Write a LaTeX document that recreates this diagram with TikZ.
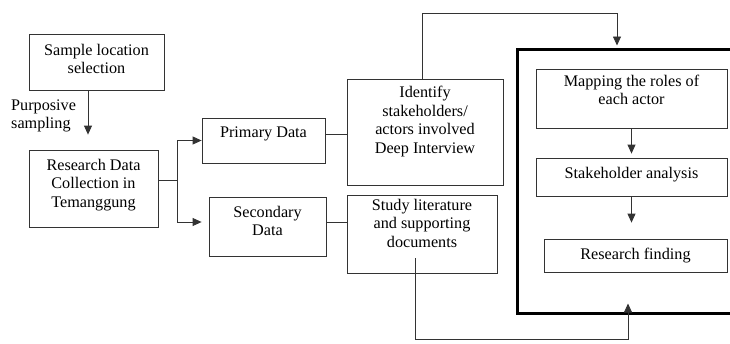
\documentclass[tikz,border=0pt]{standalone}
\usepackage{fontspec}
\setmainfont{Liberation Serif}
\usepackage{tikz}
\usetikzlibrary{arrows.meta}

% extra depth under the last line, lifts the text inside its box
\newcommand{\lowpad}[1]{\rule[-#1]{0pt}{#1}}

\tikzset{
  box/.style={draw=black!80, line width=0.8pt, align=center, inner sep=2pt,
              font=\fontsize{16.2}{18.5}\selectfont},
  arr/.style={draw=black!80, line width=0.8pt, -{Triangle[length=9pt,width=8pt]}},
  wire/.style={draw=black!80, line width=0.8pt}
}

\begin{document}
\begin{tikzpicture}[x=1pt, y=-1pt]
			\useasboundingbox (0,0) rectangle (730,343);

			% thick frame, open on the right side
			\node (frame) [draw, line width=3pt, minimum width=228pt, minimum height=264pt] at (631, 181) {};

			\node (sample) [box, minimum width=135pt, minimum height=56pt] at (96.5, 62) {Sample location\\selection\lowpad{6pt}};
			\node (collect) [box, minimum width=129pt, minimum height=77pt] at (93.5, 188.5) {Research Data\\Collection in\\Temanggung\lowpad{11pt}};
			\node (purp) [anchor=west, align=left, inner sep=0pt, font=\fontsize{16.2}{18.5}\selectfont] at (11, 116) {Purposive\\sampling};
			\node (primary) [box, minimum width=123pt, minimum height=45pt] at (263.5, 140.5) {Primary Data\lowpad{17pt}};
			\node (secondary) [box, minimum width=117pt, minimum height=59pt] at (267.5, 226.5) {Secondary\\Data\lowpad{11pt}};
			\node (identify) [box, minimum width=156pt, minimum height=106pt] at (425, 132) {Identify\\stakeholders/\\actors involved\\Deep Interview\lowpad{24pt}};
			\node (study) [box, minimum width=150pt, minimum height=78pt] at (422, 234) {Study literature\\and supporting\\documents\lowpad{22pt}};
			\node (mapping) [box, minimum width=191pt, minimum height=59pt] at (631.5, 98.5) {Mapping the roles of\\each actor\lowpad{17pt}};
			\node (analysis) [box, minimum width=191pt, minimum height=38pt] at (631.5, 177) {Stakeholder analysis\lowpad{8pt}};
			\node (finding) [box, minimum width=183pt, minimum height=33pt] at (635.5, 255.5) {Research finding};

			\coordinate (split) at (177, 180);
			\coordinate (sdown) at (88, 90);
			\coordinate (bend1) at (422, 13);
			\coordinate (bend2) at (617, 13);
			\coordinate (docend) at (415, 258);
			\coordinate (low1) at (415, 339);
			\coordinate (low2) at (628, 339);

			\draw [arr, shorten >=15pt] (sdown) -- (sdown |- collect.north);
			\draw [wire] (collect.east |- split) -- (split);
			\draw [arr] (split) |- (primary.west);
			\draw [arr, shorten >=7pt] (split) |- (secondary.west |- 0,222);
			\draw [wire] (primary.east |- 0,134) -- (identify.west |- 0,134);
			\draw [wire] (secondary.east |- 0,222) -- (study.west |- 0,222);
			\draw [arr, shorten >=2pt] (identify.north -| bend1) -- (bend1) -- (bend2) -- (bend2 |- frame.north);
			\draw [arr, shorten >=-11pt] (docend) -- (low1) -- (low2) -- (low2 |- frame.south);
			\draw [arr, shorten >=4pt] (mapping.south) -- (analysis.north);
			\draw [arr, shorten >=16pt] (analysis.south) -- (analysis.south |- finding.north);
		\end{tikzpicture}
\end{document}
